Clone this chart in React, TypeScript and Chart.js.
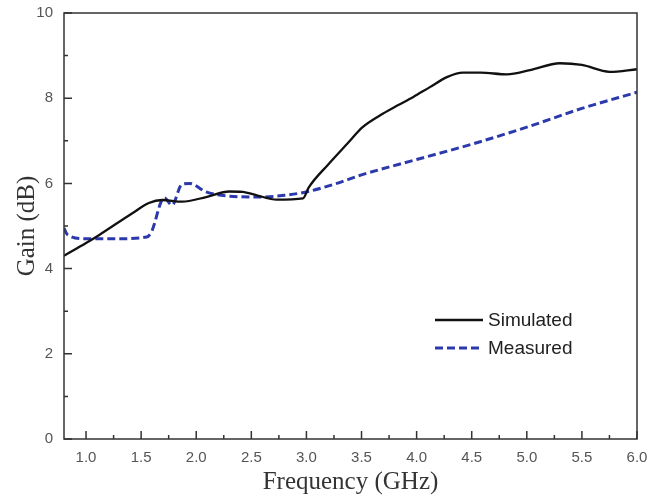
import React, { useEffect, useRef } from "react";
import { Chart, registerables } from "chart.js";

Chart.register(...registerables);

const simFreq = [0.8, 1.0, 1.12, 1.42, 1.57, 1.69, 1.87, 2.09, 2.3, 2.42, 2.55, 2.73, 2.97, 3.02, 3.2, 3.37, 3.51, 3.67, 3.82, 3.97, 4.12, 4.28, 4.42, 4.58, 4.82, 5.03, 5.3, 5.5, 5.75, 6.0];
const simGain = [4.3, 4.6, 4.79, 5.3, 5.54, 5.61, 5.57, 5.68, 5.81, 5.8, 5.72, 5.62, 5.65, 5.9, 6.45, 6.93, 7.32, 7.6, 7.82, 8.03, 8.26, 8.5, 8.6, 8.6, 8.56, 8.66, 8.82, 8.78, 8.62, 8.68];

const measFreq = [0.8, 0.83, 1.0, 1.25, 1.55, 1.6, 1.68, 1.71, 1.78, 1.87, 1.94, 2.09, 2.3, 2.6, 2.8, 3.0, 3.25, 3.5, 4.0, 4.5, 5.0, 5.5, 6.0];
const measGain = [4.95, 4.8, 4.7, 4.7, 4.74, 4.9, 5.56, 5.66, 5.49, 5.98, 6.0, 5.8, 5.7, 5.68, 5.72, 5.8, 5.98, 6.2, 6.56, 6.92, 7.32, 7.76, 8.14];

const seriesLabels = ["Simulated", "Measured"];
const xTitle = "Frequency (GHz)";
const yTitle = "Gain (dB)";

const BLACK = "#111111";
const BLUE = "#2b39ad";
const AXIS = "#333333";

const framePlugin = {
  id: "frameTicks",
  afterDatasetsDraw(chart: any) {
    const { ctx, chartArea } = chart;
    const xs = chart.scales.x;
    const ys = chart.scales.y;
    ctx.save();
    ctx.strokeStyle = AXIS;
    ctx.lineWidth = 1.5;
    ctx.strokeRect(chartArea.left, chartArea.top, chartArea.right - chartArea.left, chartArea.bottom - chartArea.top);
    ctx.beginPath();
    const xt = xs.ticks.map((t: any) => t.value);
    for (let i = 0; i < xt.length; i++) {
      const px = xs.getPixelForValue(xt[i]);
      ctx.moveTo(px, chartArea.bottom);
      ctx.lineTo(px, chartArea.bottom - 8);
      const mv = xt[i] + 0.25;
      if (mv < xs.max) {
        const pm = xs.getPixelForValue(mv);
        ctx.moveTo(pm, chartArea.bottom);
        ctx.lineTo(pm, chartArea.bottom - 4);
      }
      if (i === 0) {
        const mb = xt[i] - 0.25;
        if (mb > xs.min) {
          const pb = xs.getPixelForValue(mb);
          ctx.moveTo(pb, chartArea.bottom);
          ctx.lineTo(pb, chartArea.bottom - 4);
        }
      }
    }
    const yt = ys.ticks.map((t: any) => t.value);
    for (let i = 0; i < yt.length; i++) {
      const py = ys.getPixelForValue(yt[i]);
      ctx.moveTo(chartArea.left, py);
      ctx.lineTo(chartArea.left + 8, py);
      const mv = yt[i] + 1;
      if (mv < ys.max) {
        const pm = ys.getPixelForValue(mv);
        ctx.moveTo(chartArea.left, pm);
        ctx.lineTo(chartArea.left + 4, pm);
      }
    }
    ctx.stroke();

    // legend
    const lx = chartArea.right - 202;
    const items = chart.data.datasets;
    items.forEach((ds: any, i: number) => {
      const ly = chartArea.top + 307 + i * 28;
      ctx.beginPath();
      ctx.strokeStyle = ds.borderColor;
      ctx.lineWidth = ds.borderWidth;
      ctx.setLineDash(ds.borderDash || []);
      ctx.moveTo(lx, ly);
      ctx.lineTo(lx + 48, ly);
      ctx.stroke();
      ctx.setLineDash([]);
      ctx.fillStyle = "#222222";
      ctx.font = "19px 'Liberation Sans', Arial, sans-serif";
      ctx.textBaseline = "middle";
      ctx.textAlign = "left";
      ctx.fillText(ds.label, lx + 53, ly + 1);
    });
    ctx.restore();
  },
};

export default function App() {
  const ref = useRef<HTMLCanvasElement | null>(null);
  useEffect(() => {
    if (!ref.current) return;
    const chart = new Chart(ref.current, {
      type: "line",
      data: {
        datasets: [
          {
            label: seriesLabels[0],
            data: simFreq.map((f, i) => ({ x: f, y: simGain[i] })),
            borderColor: BLACK,
            borderWidth: 2.3,
            pointRadius: 0,
            cubicInterpolationMode: "monotone",
            fill: false,
          },
          {
            label: seriesLabels[1],
            data: measFreq.map((f, i) => ({ x: f, y: measGain[i] })),
            borderColor: BLUE,
            borderWidth: 3,
            borderDash: [8, 4],
            pointRadius: 0,
            cubicInterpolationMode: "monotone",
            fill: false,
          },
        ],
      },
      options: {
        responsive: false,
        animation: false,
        layout: { autoPadding: false, padding: { top: 13, right: 11, left: 0, bottom: 0 } },
        plugins: { legend: { display: false }, tooltip: { enabled: false } },
        scales: {
          x: {
            type: "linear",
            min: 0.8,
            max: 6.0,
            grid: { display: false, drawTicks: false },
            border: { display: false },
            ticks: {
              stepSize: 0.5,
              includeBounds: false,
              padding: 10,
              color: "#555555",
              font: { family: "'Liberation Sans', Arial, sans-serif", size: 15 },
              callback: (v: any) => Number(v).toFixed(1),
              maxRotation: 0,
              autoSkip: false,
            },
            title: {
              display: true,
              text: xTitle,
              color: "#333333",
              font: { family: "'Liberation Serif', 'Times New Roman', serif", size: 25 },
              padding: { top: 0, bottom: 0 },
            },
            afterFit: (s: any) => {
              s.height = 58;
              s.paddingLeft = 0;
              s.paddingRight = 0;
            },
          },
          y: {
            min: 0,
            max: 10,
            grid: { display: false, drawTicks: false },
            border: { display: false },
            ticks: {
              stepSize: 2,
              padding: 11,
              color: "#555555",
              font: { family: "'Liberation Sans', Arial, sans-serif", size: 15 },
            },
            title: {
              display: true,
              text: yTitle,
              color: "#333333",
              font: { family: "'Liberation Serif', 'Times New Roman', serif", size: 25 },
              padding: { top: 12, bottom: 0 },
            },
            afterFit: (s: any) => {
              s.width = 64;
              s.paddingTop = 0;
              s.paddingBottom = 0;
            },
          },
        },
      },
      plugins: [framePlugin],
    });
    return () => chart.destroy();
  }, []);
  return (
    <div style={{ position: "absolute", left: 0, top: 0, width: 648, height: 497, background: "#fff" }}>
      <canvas ref={ref} width={648} height={497} style={{ display: "block" }} />
    </div>
  );
}
